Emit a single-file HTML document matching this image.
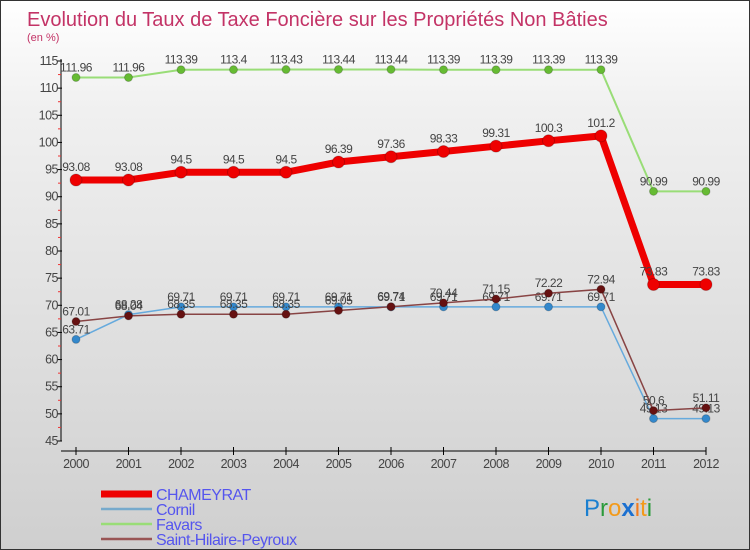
<!DOCTYPE html>
<html><head><meta charset="utf-8"><style>
body{margin:0}
#c{position:relative;width:748px;height:548px;border:1px solid #333;background:linear-gradient(#fff,#f0f0f0 20%,#cfcfcf);font-family:"Liberation Sans",sans-serif;overflow:hidden}
</style></head><body>
<div id="c">
<svg width="748" height="548" id="s">
<text x="26" y="25" font-size="20" fill="#c33366" font-weight="300">Evolution du Taux de Taxe Foncière sur les Propriétés Non Bâties</text>
<text x="26" y="40" font-size="11" fill="#c33366">(en %)</text>
<g id="axes"></g><g id="series"></g><g id="legend"></g>
<text x="583" y="515" font-size="24" font-family="Liberation Sans,sans-serif"><tspan fill="#1a7fd0">P</tspan><tspan fill="#2a9a3a">r</tspan><tspan fill="#f39a1a">o</tspan><tspan fill="#1a6fd0" font-weight="bold">x</tspan><tspan fill="#f37a1a">i</tspan><tspan fill="#f39a1a">t</tspan><tspan fill="#2a9a3a">i</tspan></text>
</svg></div>
<script>
const years=[2000,2001,2002,2003,2004,2005,2006,2007,2008,2009,2010,2011,2012];
const yTicks=[45,50,55,60,65,70,75,80,85,90,95,100,105,110,115];
const chameyrat=[93.08,93.08,94.5,94.5,94.5,96.39,97.36,98.33,99.31,100.3,101.2,73.83,73.83];
const cornil=[63.71,68.28,69.71,69.71,69.71,69.71,69.71,69.71,69.71,69.71,69.71,49.13,49.13];
const favars=[111.96,111.96,113.39,113.4,113.43,113.44,113.44,113.39,113.39,113.39,113.39,90.99,90.99];
const shp=[67.01,68.04,68.35,68.35,68.35,69.05,69.74,70.44,71.15,72.22,72.94,50.6,51.11];
const names=["CHAMEYRAT","Cornil","Favars","Saint-Hilaire-Peyroux"];
const NS="http://www.w3.org/2000/svg";
const X=i=>75+i*52.5, Y=v=>440-(v-45)*(380/70);
function mk(p,t,a){const e=document.createElementNS(NS,t);for(const k in a)e.setAttribute(k,a[k]);p.appendChild(e);return e;}
const ax=document.getElementById('axes');
let l=mk(ax,'line',{x1:60,y1:58,x2:60,y2:440,stroke:'#000'});


l=mk(ax,'line',{x1:60,y1:450,x2:705,y2:450,stroke:'#000'});


yTicks.forEach((v,i)=>{const y=Y(v);
mk(ax,'line',{x1:56,y1:y,x2:61,y2:y,stroke:'#000'});
if(i<yTicks.length-1)mk(ax,'line',{x1:57,y1:Y(v+2.5),x2:60,y2:Y(v+2.5),stroke:'#e33'});
const t=mk(ax,'text',{x:57,y:y+4,'font-size':12.5,'text-anchor':'end',fill:'#444','letter-spacing':'-0.5'});t.textContent=v;

});
years.forEach((yr,i)=>{mk(ax,'line',{x1:X(i),y1:446,x2:X(i),y2:454,stroke:'#000'});
const t=mk(ax,'text',{x:X(i),y:467,'font-size':12.5,'text-anchor':'middle',fill:'#444','letter-spacing':'-0.5'});t.textContent=yr;

});
const ser=[[favars,'#99dd77','#66bb33',2,4,'favars'],[cornil,'#66aadd','#3388cc',1.5,4,'cornil'],[shp,'#884444','#661111',1.5,4,'saint-hilaire-peyroux'],[chameyrat,'#ee0000','#ee0000',7,6,'chameyrat']];
const sg=document.getElementById('series');
ser.forEach(([d,lc,pc,w,r,n])=>{
const g=mk(sg,'g',{});


mk(g,'polyline',{points:d.map((v,i)=>X(i)+','+Y(v)).join(' '),fill:'none',stroke:lc,'stroke-width':w});
d.forEach((v,i)=>{const c=mk(g,'circle',{cx:X(i),cy:Y(v),r:r,fill:pc,stroke:'#0003'});


const t=mk(g,'text',{x:X(i),y:Y(v)-(n=='chameyrat'?9:6),'font-size':12,'text-anchor':'middle',fill:'#444','letter-spacing':'-0.5'});t.textContent=v;

});});
const lg=document.getElementById('legend');
const lcol=['#ee0000','#77aacc','#99dd77','#995555'],lw=[7,2.5,2.5,2.5];
names.forEach((n,i)=>{const y=493+i*15;
const e=mk(lg,'line',{x1:100,y1:y,x2:151,y2:y,stroke:lcol[i],'stroke-width':lw[i]});


const t=mk(lg,'text',{x:155,y:y+6,'font-size':16,fill:'#5555ee','letter-spacing':'-0.5'});t.textContent=n;

});
</script>
</body></html>
